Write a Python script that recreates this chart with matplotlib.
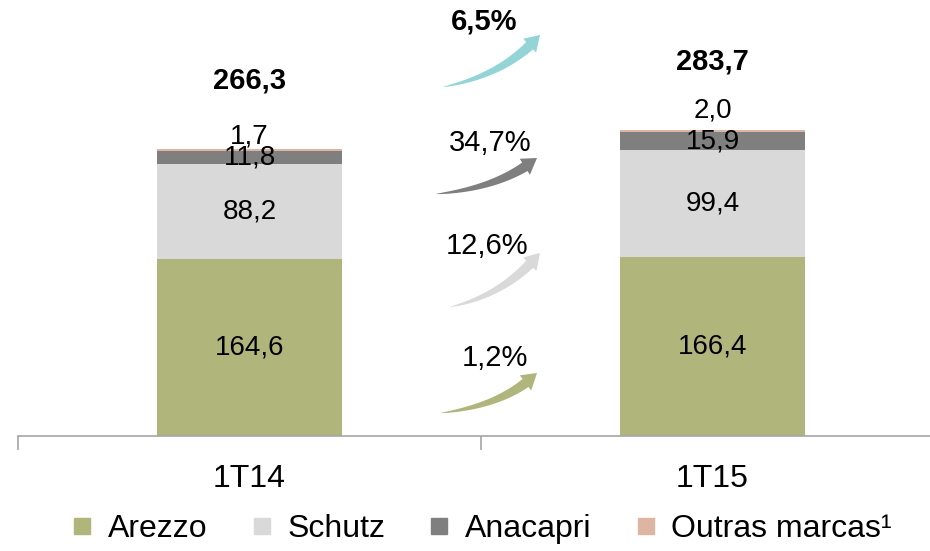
import numpy as np
import matplotlib
matplotlib.use("Agg")
import matplotlib.pyplot as plt
from matplotlib.patches import Polygon
from matplotlib.lines import Line2D

plt.rcParams['font.family'] = ['Liberation Sans', 'DejaVu Sans']

periods = ['1T14', '1T15']
brands = ['Arezzo', 'Schutz', 'Anacapri', 'Outras marcas¹']
arezzo = [164.6, 166.4]
schutz = [88.2, 99.4]
anacapri = [11.8, 15.9]
outras = [1.7, 2.0]
totals = [266.3, 283.7]
brand_growth = ['1,2%', '12,6%', '34,7%']
total_growth = '6,5%'

colors = ['#B0B57B', '#D9D9D9', '#7F7F7F', '#DDB5A2']
total_arrow_color = '#93D4D7'

W, H = 930, 551
fig = plt.figure(figsize=(W / 100, H / 100), dpi=100)
ax = fig.add_axes([18 / W, 1 - 436 / H, 926 / W, 431 / H])

x = np.arange(len(periods))
series = [arezzo, schutz, anacapri, outras]
bottom = np.zeros(len(periods))
bw = 0.4
fmt = lambda v: f"{v:.1f}".replace('.', ',')
for i, (vals, c) in enumerate(zip(series, colors)):
    vals = np.array(vals)
    ax.bar(x, vals, bw, bottom=bottom, color=c, label=brands[i], zorder=2)
    for j in range(len(x)):
        if i < 3:
            ax.text(x[j], bottom[j] + vals[j] / 2, fmt(vals[j]), ha='center', va='center',
                    fontsize=20, zorder=3)
        else:
            off = [13, 20][j]
            ax.annotate(fmt(vals[j]), (x[j], bottom[j] + vals[j]), xytext=(0, off * 0.72),
                        textcoords='offset points', ha='center', va='center', fontsize=20)
    bottom = bottom + vals

for j in range(len(x)):
    ax.annotate(fmt(totals[j]), (x[j], bottom[j]), xytext=(0, 69 * 0.72),
                textcoords='offset points', ha='center', va='center', fontsize=21,
                fontweight='bold')

ax.set_xlim(-0.5, 1.5)
ax.set_ylim(0, 400)
for s in ['left', 'top', 'right']:
    ax.spines[s].set_visible(False)
ax.spines['bottom'].set_color('#A6A6A6')
ax.spines['bottom'].set_linewidth(1.2)
ax.set_yticks([])
ax.set_xticks(x)
ax.set_xticklabels(periods, fontsize=23)
ax.tick_params(axis='x', which='major', length=0, pad=20)
ax.set_xticks([-0.5, 0.5, 1.5], minor=True)
ax.tick_params(axis='x', which='minor', length=10, color='#A6A6A6', width=1.2)


def curved_arrow(p0, c, tip, color, head_len=15, head_w=19, body_w=10):
    p0, c, tip = map(np.array, (p0, c, tip))
    t = np.linspace(0, 1, 200)
    curve = ((1 - t)[:, None] ** 2) * p0 + (2 * (1 - t) * t)[:, None] * c + (t ** 2)[:, None] * tip
    d = np.linalg.norm(curve - tip, axis=1)
    k = np.argmin(np.abs(d - head_len))
    body = curve[:k + 1]
    tang = np.gradient(body, axis=0)
    tang /= np.linalg.norm(tang, axis=1)[:, None]
    nrm = np.stack([-tang[:, 1], tang[:, 0]], axis=1)
    wid = (body_w / 2) * np.linspace(0, 1, len(body)) ** 0.7
    left = body + nrm * wid[:, None]
    right = body - nrm * wid[:, None]
    base = body[-1]
    n = nrm[-1]
    pts = np.vstack([left, base + n * head_w / 2, tip, base - n * head_w / 2, right[::-1]])
    pts_fig = np.column_stack([pts[:, 0] / W, 1 - pts[:, 1] / H])
    fig.patches.append(Polygon(pts_fig, closed=True, transform=fig.transFigure,
                               facecolor=color, edgecolor='none'))


arrow_specs = [
    ((441, 413), (505, 405), (537, 373), colors[0], brand_growth[0], (495, 358), 'normal'),
    ((450, 307), (505, 295), (540, 253), colors[1], brand_growth[1], (487, 246), 'normal'),
    ((436, 194), (500, 188), (537, 158), colors[2], brand_growth[2], (490, 143), 'normal'),
    ((443, 87), (505, 75), (540, 35), total_arrow_color, total_growth, (484, 22), 'bold'),
]
for p0, c, tip, col, lab, lpos, wt in arrow_specs:
    curved_arrow(p0, c, tip, col)
    fig.text(lpos[0] / W, 1 - lpos[1] / H, lab, ha='center', va='center', fontsize=21,
             fontweight=wt)

handles = [Line2D([], [], marker='s', linestyle='none', markersize=11, color=c) for c in colors]
fig.legend(handles, brands, loc='center', bbox_to_anchor=(0.5 + 14 / W, 1 - 529 / H), ncol=4,
           frameon=False, fontsize=23, handletextpad=0.3, columnspacing=1.2,
           borderpad=0, handlelength=1)

fig.savefig('out.png', dpi=100)
